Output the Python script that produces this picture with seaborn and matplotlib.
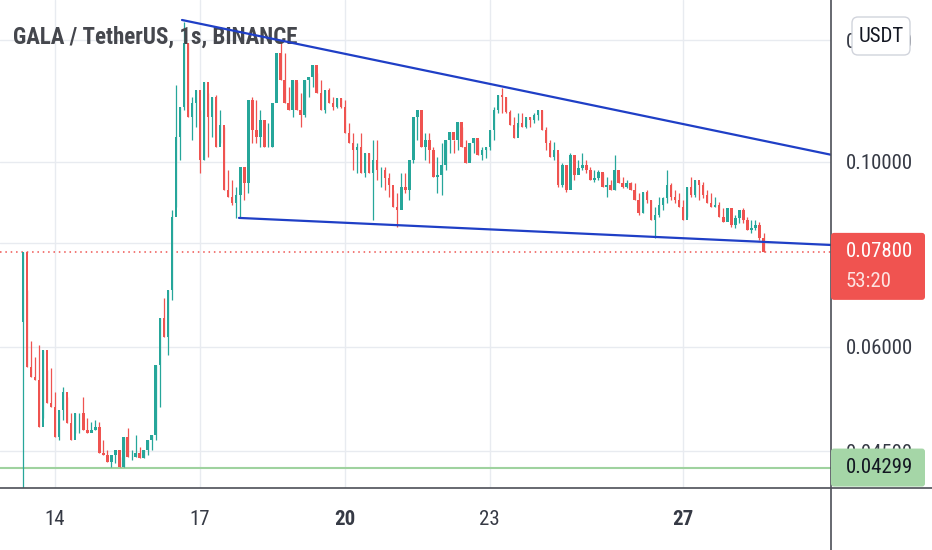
import numpy as np
import pandas as pd
import matplotlib
matplotlib.use("Agg")
import matplotlib.pyplot as plt
from matplotlib.patches import FancyBboxPatch
from matplotlib.lines import Line2D
from matplotlib.ticker import NullLocator, NullFormatter
from matplotlib.transforms import IdentityTransform
import seaborn as sns

# GALA/USDT 2h candles from the listing (Sep 13, 08:00), open = previous close
start_day = 13 + 8 / 24
step = 1 / 12
first_open = 0.0642

closes = [
    0.0780, 0.0568, 0.0552, 0.0548, 0.0481, 0.0595, 0.0514, 0.0508, 0.0468, 0.0504,
    0.0529, 0.0486, 0.0464, 0.0500, 0.0500, 0.0477, 0.0473, 0.0477, 0.0481, 0.0447,
    0.0445, 0.0437, 0.0445, 0.0451, 0.0431, 0.0468, 0.0443, 0.0443, 0.0447, 0.0442,
    0.0451, 0.0464, 0.0470, 0.0571, 0.0650, 0.0617, 0.0702, 0.0859,
    0.1071, 0.1165, 0.1389, 0.1133, 0.1177, 0.1220, 0.1006, 0.1247, 0.1133, 0.1196,
    0.1042, 0.1108, 0.0926, 0.0908, 0.0893, 0.0913, 0.0987, 0.0944, 0.1187, 0.1092,
    0.1071, 0.1123, 0.1042, 0.1042, 0.1177, 0.1352, 0.1254, 0.1177, 0.1154, 0.1254,
    0.1154, 0.1139, 0.1254, 0.1265,
    0.1307, 0.1210, 0.1154, 0.1220, 0.1177, 0.1165, 0.1193, 0.1165, 0.1083, 0.1054,
    0.1034, 0.1042, 0.0970, 0.1026, 0.0970, 0.1006, 0.0978, 0.0978, 0.0957, 0.0938,
    0.0883, 0.0876, 0.0933, 0.0926, 0.1006, 0.1133, 0.1154, 0.1042, 0.1063, 0.1034,
    0.0960, 0.0965, 0.0992, 0.1063,
    0.1086, 0.1063, 0.1117, 0.1042, 0.0998, 0.1054, 0.1068, 0.1020, 0.1034, 0.1042,
    0.1092, 0.1154, 0.1203, 0.1196, 0.1148, 0.1108, 0.1068, 0.1114, 0.1102, 0.1133,
    0.1123, 0.1139, 0.1154, 0.1092, 0.1054, 0.1014, 0.1034, 0.0938, 0.0992, 0.0926,
    0.1020, 0.0965, 0.0984, 0.0992, 0.0978,
    0.0952, 0.0957, 0.0973, 0.0933, 0.0938, 0.0926, 0.0978, 0.0944, 0.0933, 0.0944,
    0.0926, 0.0900, 0.0869, 0.0921, 0.0900, 0.0852, 0.0864, 0.0888, 0.0905, 0.0938,
    0.0908, 0.0900, 0.0883, 0.0852, 0.0933, 0.0913, 0.0952, 0.0938, 0.0913, 0.0893,
    0.0883, 0.0888, 0.0859, 0.0847, 0.0881, 0.0840, 0.0857, 0.0876, 0.0852, 0.0829,
    0.0833, 0.0840, 0.0810, 0.0780,
]
highs = [
    0.0780, 0.0702, 0.0609, 0.0584, 0.0603, 0.0595, 0.0563, 0.0566, 0.0530, 0.0504,
    0.0537, 0.0522, 0.0500, 0.0500, 0.0500, 0.0522, 0.0493, 0.0487, 0.0490, 0.0487,
    0.0464, 0.0451, 0.0445, 0.0451, 0.0443, 0.0468, 0.0480, 0.0451, 0.0470, 0.0455,
    0.0451, 0.0464, 0.0470, 0.0571, 0.0650, 0.0687, 0.0702, 0.0876,
    0.1237, 0.1165, 0.1472, 0.1389, 0.1196, 0.1220, 0.1154, 0.1247, 0.1210, 0.1196,
    0.1203, 0.1154, 0.1102, 0.0978, 0.0952, 0.0933, 0.0987, 0.0960, 0.1187, 0.1196,
    0.1187, 0.1154, 0.1123, 0.1114, 0.1177, 0.1352, 0.1401, 0.1352, 0.1230, 0.1254,
    0.1247, 0.1210, 0.1254, 0.1265,
    0.1307, 0.1279, 0.1254, 0.1220, 0.1227, 0.1196, 0.1193, 0.1193, 0.1187, 0.1114,
    0.1083, 0.1054, 0.1083, 0.1026, 0.1026, 0.1063, 0.1063, 0.0987, 0.0987, 0.0970,
    0.0926, 0.0918, 0.0970, 0.0970, 0.1006, 0.1133, 0.1154, 0.1114, 0.1083, 0.1083,
    0.1042, 0.1014, 0.1054, 0.1063,
    0.1086, 0.1063, 0.1117, 0.1102, 0.1063, 0.1054, 0.1068, 0.1063, 0.1042, 0.1042,
    0.1092, 0.1165, 0.1203, 0.1227, 0.1196, 0.1154, 0.1133, 0.1144, 0.1144, 0.1133,
    0.1133, 0.1144, 0.1154, 0.1154, 0.1102, 0.1063, 0.1057, 0.1026, 0.0998, 0.0970,
    0.1026, 0.1006, 0.1006, 0.1026, 0.1006,
    0.0987, 0.0978, 0.0978, 0.0970, 0.0960, 0.0952, 0.1020, 0.0960, 0.0960, 0.0952,
    0.0947, 0.0944, 0.0918, 0.0921, 0.0926, 0.0900, 0.0883, 0.0908, 0.0908, 0.0978,
    0.0944, 0.0926, 0.0918, 0.0900, 0.0933, 0.0960, 0.0952, 0.0947, 0.0947, 0.0926,
    0.0918, 0.0908, 0.0895, 0.0881, 0.0881, 0.0881, 0.0864, 0.0876, 0.0881, 0.0859,
    0.0852, 0.0852, 0.0847, 0.0822,
]
lows = [
    0.0380, 0.0568, 0.0552, 0.0548, 0.0481, 0.0493, 0.0514, 0.0508, 0.0468, 0.0464,
    0.0490, 0.0486, 0.0464, 0.0473, 0.0473, 0.0477, 0.0473, 0.0477, 0.0477, 0.0447,
    0.0445, 0.0437, 0.0430, 0.0435, 0.0431, 0.0431, 0.0443, 0.0439, 0.0443, 0.0442,
    0.0442, 0.0445, 0.0451, 0.0464, 0.0508, 0.0617, 0.0587, 0.0683,
    0.0883, 0.1006, 0.1154, 0.1133, 0.1063, 0.1102, 0.0970, 0.1006, 0.1014, 0.1071,
    0.1042, 0.1054, 0.0926, 0.0908, 0.0888, 0.0857, 0.0859, 0.0900, 0.0918, 0.1054,
    0.1054, 0.1042, 0.1042, 0.1042, 0.1042, 0.1187, 0.1254, 0.1177, 0.1154, 0.1133,
    0.1154, 0.1102, 0.1133, 0.1196,
    0.1230, 0.1210, 0.1154, 0.1144, 0.1177, 0.1154, 0.1162, 0.1162, 0.1083, 0.1054,
    0.0978, 0.0970, 0.0970, 0.0960, 0.0970, 0.0852, 0.0952, 0.0933, 0.0926, 0.0908,
    0.0883, 0.0836, 0.0883, 0.0918, 0.0900, 0.0998, 0.1063, 0.1042, 0.1006, 0.0998,
    0.0960, 0.0918, 0.0913, 0.0978,
    0.1026, 0.1026, 0.1034, 0.1042, 0.0998, 0.1006, 0.1026, 0.1020, 0.1006, 0.1012,
    0.1034, 0.1063, 0.1144, 0.1144, 0.1144, 0.1108, 0.1068, 0.1102, 0.1102, 0.1099,
    0.1102, 0.1114, 0.1123, 0.1092, 0.1034, 0.1014, 0.1006, 0.0933, 0.0933, 0.0921,
    0.0944, 0.0952, 0.0970, 0.0978, 0.0970,
    0.0952, 0.0947, 0.0952, 0.0933, 0.0908, 0.0926, 0.0926, 0.0944, 0.0931, 0.0931,
    0.0926, 0.0900, 0.0864, 0.0869, 0.0893, 0.0852, 0.0810, 0.0859, 0.0876, 0.0893,
    0.0900, 0.0893, 0.0883, 0.0852, 0.0859, 0.0908, 0.0908, 0.0900, 0.0905, 0.0893,
    0.0883, 0.0883, 0.0859, 0.0847, 0.0852, 0.0836, 0.0833, 0.0845, 0.0845, 0.0829,
    0.0822, 0.0829, 0.0806, 0.0780,
]

tick_days = [14, 17, 20, 23, 27]
tick_labels = ["14", "17", "20", "23", "27"]
bold_labels = ["20", "27"]
price_ticks = [0.045, 0.06, 0.08, 0.10, 0.14]

last_price = 0.0780
countdown = "53:20"
support_price = 0.04299

# falling wedge drawn on the chart
upper_days = [16.627, 30.064]
upper_prices = [0.1480, 0.1020]
lower_days = [17.807, 30.064]
lower_prices = [0.08567, 0.0795]

up_color = "#26a69a"
down_color = "#ef5350"
label_fonts = ["Roboto Condensed", "Liberation Sans Narrow", "Roboto", "DejaVu Sans"]
label_size = 15

df = pd.DataFrame({"close": closes, "high": highs, "low": lows})
df["open"] = [first_open] + closes[:-1]
df["day"] = start_day + np.arange(len(df)) * step
df["up"] = df["close"] >= df["open"]

sns.set_theme(style="white")
plt.rcParams["font.family"] = label_fonts

W, H = 932, 550
fig = plt.figure(figsize=(W / 100, H / 100), dpi=100, facecolor="white")
ax = fig.add_axes([0, 62 / H, 831 / W, 488 / H])
ax.set_yscale("log")
ax.set_xlim(12.859, 30.064)
ax.set_ylim(0.04063, 0.1564)

colors = np.where(df["up"], up_color, down_color)
ax.vlines(df["day"], df["low"], df["high"], colors=colors, lw=0.9, zorder=3)
body_lo = df[["open", "close"]].min(axis=1)
body_hi = df[["open", "close"]].max(axis=1)
ax.bar(df["day"], body_hi - body_lo, bottom=body_lo, width=step * 0.62,
       color=colors, linewidth=0, zorder=3)

# reference lines
ax.axhline(last_price, color=down_color, ls=(0, (1, 2.5)), lw=1.1, zorder=2)
ax.axhline(support_price, color="#9fd29f", lw=1.5, zorder=2)

sns.lineplot(x=upper_days, y=upper_prices, ax=ax, color="#1f3fc6", lw=1.6, zorder=5)
sns.lineplot(x=lower_days, y=lower_prices, ax=ax, color="#1f3fc6", lw=1.6, zorder=5)

# axes, grid, ticks
ax.yaxis.tick_right()
ax.yaxis.set_minor_locator(NullLocator())
ax.yaxis.set_minor_formatter(NullFormatter())
ax.set_yticks(price_ticks)
ax.set_yticklabels([f"{p:.5f}" for p in price_ticks])
ax.set_xticks(tick_days)
ax.set_xticklabels(tick_labels)
ax.grid(True, color="#e8ebf0", lw=1, zorder=0)
ax.tick_params(axis="y", length=0, pad=10.5, labelsize=label_size, labelcolor="#363a45")
ax.tick_params(axis="x", length=0, pad=16, labelsize=label_size, labelcolor="#363a45")
for lab in ax.get_xticklabels():
    if lab.get_text() in bold_labels:
        lab.set_fontweight("bold")
for s in ax.spines.values():
    s.set_visible(False)
ax.set_xlabel("")
ax.set_ylabel("")

ax.text(13 / 831, 1 - 37 / 488, "GALA / TetherUS, 1s, BINANCE", transform=ax.transAxes,
        ha="left", va="center", fontsize=16.5, fontweight="bold",
        family=["Roboto Condensed", "Liberation Sans Narrow", "Open Sans"],
        color="#45474d", zorder=4)

fig.add_artist(Line2D([831 / W, 831 / W], [0, 1], transform=fig.transFigure,
                      color="#4d4f57", lw=1.2))
fig.add_artist(Line2D([0, 1], [62 / H, 62 / H], transform=fig.transFigure,
                      color="#4d4f57", lw=1.2))

# price labels on the scale
pix = IdentityTransform()
y_last = ax.transData.transform((20, last_price))[1]
fig.add_artist(FancyBboxPatch((831, y_last - 48), 94, 67, boxstyle="round,pad=0,rounding_size=3",
                              transform=pix, fc="#f05350", ec="none", zorder=10))
fig.text(846, y_last, f"{last_price:.5f}", transform=pix, ha="left", va="center",
         fontsize=label_size, color="white", zorder=11)
fig.text(846, y_last - 30, countdown, transform=pix, ha="left", va="center",
         fontsize=label_size, color="#fde3e2", zorder=11)

y_sup = ax.transData.transform((20, support_price))[1]
fig.add_artist(FancyBboxPatch((831, y_sup - 19), 94, 38, boxstyle="round,pad=0,rounding_size=3",
                              transform=pix, fc="#a5d6a7", ec="none", zorder=10))
fig.text(846, y_sup, f"{support_price:.5f}", transform=pix, ha="left", va="center",
         fontsize=label_size, color="#131722", zorder=11)

fig.add_artist(FancyBboxPatch((852, H - 55), 58, 38, boxstyle="round,pad=0,rounding_size=6",
                              transform=pix, fc="white", ec="#d1d4dc", lw=1, zorder=10))
fig.text(881, H - 36, "USDT", transform=pix, ha="center", va="center",
         fontsize=label_size, color="#131722", zorder=11)

fig.savefig("out.png", dpi=100)
